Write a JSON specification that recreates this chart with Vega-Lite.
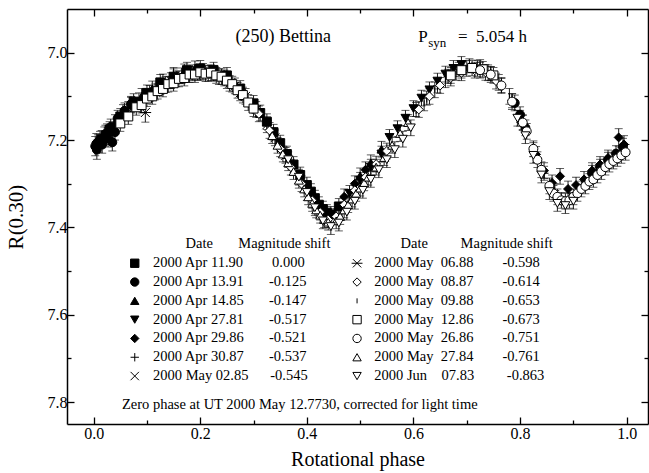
{
"$schema": "https://vega.github.io/schema/vega-lite/v6.json",
"width": 581, "height": 415,
"autosize": {"type": "none"},
"padding": {"left": 67, "top": 9, "right": 1, "bottom": 49},
"background": "white",
"config": {"view": {"stroke": null},
 "axis": {"domainColor": "black", "domainWidth": 1.5, "tickColor": "black", "tickWidth": 1.3, "labelColor": "black", "titleColor": "black", "labelFont": "Liberation Serif", "titleFont": "Liberation Serif", "labelFontSize": 16, "titleFontSize": 21, "titleFontWeight": "normal", "grid": false, "labelOverlap": false, "labelFlush": false},
 "legend": {"titleLimit": 500, "labelLimit": 500}},
"datasets": {"lc": [
{"s":"a","p":0.015,"m":7.198,"e":0.02},{"s":"a","p":0.03,"m":7.176,"e":0.018},
{"s":"a","p":0.05,"m":7.146,"e":0.018},{"s":"a","p":0.075,"m":7.112,"e":0.018},{"s":"a","p":0.1,"m":7.092,"e":0.018},{"s":"a","p":0.125,"m":7.068,"e":0.018},{"s":"a","p":0.15,"m":7.055,"e":0.018},{"s":"a","p":0.175,"m":7.04,"e":0.018},{"s":"a","p":0.2,"m":7.036,"e":0.018},{"s":"a","p":0.225,"m":7.04,"e":0.018},{"s":"a","p":0.25,"m":7.052,"e":0.018},{"s":"a","p":0.275,"m":7.082,"e":0.018},{"s":"a","p":0.3,"m":7.116,"e":0.018},{"s":"a","p":0.3125,"m":7.138,"e":0.018},{"s":"a","p":0.325,"m":7.158,"e":0.018},{"s":"a","p":0.3375,"m":7.182,"e":0.018},{"s":"a","p":0.35,"m":7.207,"e":0.018},{"s":"a","p":0.3625,"m":7.232,"e":0.018},{"s":"a","p":0.375,"m":7.256,"e":0.018},{"s":"a","p":0.3875,"m":7.28,"e":0.018},{"s":"a","p":0.4,"m":7.303,"e":0.018},{"s":"a","p":0.4075,"m":7.318,"e":0.018},{"s":"a","p":0.415,"m":7.333,"e":0.018},{"s":"a","p":0.4225,"m":7.348,"e":0.018},{"s":"a","p":0.43,"m":7.358,"e":0.018},{"s":"a","p":0.4375,"m":7.366,"e":0.018},{"s":"a","p":0.445,"m":7.37,"e":0.018},{"s":"a","p":0.46,"m":7.352,"e":0.018},
{"s":"b","p":0.003,"m":7.214,"e":0.022},{"s":"b","p":0.006,"m":7.222,"e":0.022},{"s":"b","p":0.012,"m":7.2,"e":0.02},{"s":"b","p":0.016,"m":7.21,"e":0.02},{"s":"b","p":0.022,"m":7.186,"e":0.02},{"s":"b","p":0.027,"m":7.196,"e":0.02},{"s":"b","p":0.032,"m":7.17,"e":0.018},{"s":"b","p":0.035,"m":7.205,"e":0.02},{"s":"b","p":0.04,"m":7.182,"e":0.018},{"s":"b","p":0.045,"m":7.15,"e":0.018},{"s":"b","p":0.058,"m":7.133,"e":0.018},{"s":"b","p":0.07,"m":7.118,"e":0.018},{"s":"b","p":0.79,"m":7.115,"e":0.018},{"s":"b","p":0.8,"m":7.142,"e":0.018},{"s":"b","p":0.81,"m":7.172,"e":0.018},{"s":"b","p":0.935,"m":7.276,"e":0.018},{"s":"b","p":0.95,"m":7.262,"e":0.018},{"s":"b","p":0.965,"m":7.246,"e":0.018},{"s":"b","p":0.98,"m":7.231,"e":0.018},{"s":"b","p":0.993,"m":7.216,"e":0.02},
{"s":"c","p":0.008,"m":7.208,"e":0.02},{"s":"c","p":0.025,"m":7.181,"e":0.018},{"s":"c","p":0.04,"m":7.16,"e":0.018},{"s":"c","p":0.055,"m":7.137,"e":0.018},{"s":"c","p":0.07,"m":7.12,"e":0.018},{"s":"c","p":0.09,"m":7.1,"e":0.018},{"s":"c","p":0.11,"m":7.083,"e":0.018},{"s":"c","p":0.13,"m":7.067,"e":0.018},{"s":"c","p":0.15,"m":7.052,"e":0.018},{"s":"c","p":0.17,"m":7.044,"e":0.018},{"s":"c","p":0.19,"m":7.037,"e":0.018},{"s":"c","p":0.5,"m":7.282,"e":0.018},{"s":"c","p":0.52,"m":7.252,"e":0.018},{"s":"c","p":0.54,"m":7.221,"e":0.018},
{"s":"d","p":0.48,"m":7.322,"e":0.018},{"s":"d","p":0.5,"m":7.292,"e":0.018},{"s":"d","p":0.52,"m":7.262,"e":0.018},{"s":"d","p":0.54,"m":7.232,"e":0.018},{"s":"d","p":0.555,"m":7.194,"e":0.018},{"s":"d","p":0.57,"m":7.174,"e":0.018},{"s":"d","p":0.585,"m":7.15,"e":0.018},{"s":"d","p":0.6,"m":7.128,"e":0.018},{"s":"d","p":0.615,"m":7.104,"e":0.018},{"s":"d","p":0.63,"m":7.085,"e":0.018},{"s":"d","p":0.645,"m":7.065,"e":0.018},{"s":"d","p":0.66,"m":7.049,"e":0.018},{"s":"d","p":0.675,"m":7.036,"e":0.018},{"s":"d","p":0.69,"m":7.027,"e":0.018},
{"s":"e","p":0.005,"m":7.205,"e":0.02},{"s":"e","p":0.02,"m":7.19,"e":0.02},{"s":"e","p":0.47,"m":7.33,"e":0.018},{"s":"e","p":0.49,"m":7.3,"e":0.018},{"s":"e","p":0.51,"m":7.268,"e":0.018},{"s":"e","p":0.83,"m":7.233,"e":0.018},{"s":"e","p":0.845,"m":7.27,"e":0.018},{"s":"e","p":0.86,"m":7.298,"e":0.018},{"s":"e","p":0.875,"m":7.283,"e":0.018},{"s":"e","p":0.89,"m":7.312,"e":0.018},{"s":"e","p":0.905,"m":7.303,"e":0.018},{"s":"e","p":0.92,"m":7.29,"e":0.018},{"s":"e","p":0.935,"m":7.27,"e":0.018},{"s":"e","p":0.95,"m":7.256,"e":0.018},{"s":"e","p":0.965,"m":7.241,"e":0.018},{"s":"e","p":0.985,"m":7.194,"e":0.02},{"s":"e","p":0.995,"m":7.21,"e":0.02},
{"s":"f","p":0.605,"m":7.13,"e":0.016},{"s":"f","p":0.625,"m":7.104,"e":0.016},{"s":"f","p":0.645,"m":7.076,"e":0.016},{"s":"f","p":0.665,"m":7.054,"e":0.016},{"s":"f","p":0.685,"m":7.038,"e":0.016},{"s":"f","p":0.705,"m":7.03,"e":0.016},{"s":"f","p":0.725,"m":7.032,"e":0.016},{"s":"f","p":0.745,"m":7.048,"e":0.016},{"s":"f","p":0.765,"m":7.075,"e":0.016},{"s":"f","p":0.785,"m":7.11,"e":0.016},{"s":"f","p":0.805,"m":7.16,"e":0.016},{"s":"f","p":0.825,"m":7.222,"e":0.016},{"s":"f","p":0.845,"m":7.276,"e":0.016},{"s":"f","p":0.865,"m":7.316,"e":0.016},
{"s":"g","p":0.065,"m":7.13,"e":0.018},{"s":"g","p":0.085,"m":7.11,"e":0.018},{"s":"g","p":0.105,"m":7.093,"e":0.018},{"s":"g","p":0.125,"m":7.078,"e":0.018},{"s":"g","p":0.145,"m":7.064,"e":0.018},{"s":"g","p":0.165,"m":7.053,"e":0.018},{"s":"g","p":0.185,"m":7.046,"e":0.018},{"s":"g","p":0.205,"m":7.043,"e":0.018},{"s":"g","p":0.225,"m":7.047,"e":0.018},{"s":"g","p":0.245,"m":7.058,"e":0.018},{"s":"g","p":0.265,"m":7.076,"e":0.018},{"s":"g","p":0.285,"m":7.1,"e":0.018},{"s":"g","p":0.305,"m":7.13,"e":0.018},{"s":"g","p":0.325,"m":7.165,"e":0.018},{"s":"g","p":0.34,"m":7.195,"e":0.018},{"s":"g","p":0.36,"m":7.235,"e":0.018},
{"s":"h","p":0.097,"m":7.137,"e":0.022},{"s":"h","p":0.115,"m":7.09,"e":0.018},{"s":"h","p":0.135,"m":7.073,"e":0.018},{"s":"h","p":0.155,"m":7.06,"e":0.018},{"s":"h","p":0.175,"m":7.05,"e":0.018},{"s":"h","p":0.195,"m":7.045,"e":0.018},{"s":"h","p":0.215,"m":7.047,"e":0.018},{"s":"h","p":0.235,"m":7.055,"e":0.018},{"s":"h","p":0.255,"m":7.07,"e":0.018},{"s":"h","p":0.275,"m":7.092,"e":0.018},
{"s":"i","p":0.31,"m":7.14,"e":0.018},{"s":"i","p":0.33,"m":7.178,"e":0.018},{"s":"i","p":0.35,"m":7.22,"e":0.018},{"s":"i","p":0.37,"m":7.262,"e":0.018},{"s":"i","p":0.39,"m":7.3,"e":0.018},{"s":"i","p":0.41,"m":7.338,"e":0.018},{"s":"i","p":0.425,"m":7.365,"e":0.018},{"s":"i","p":0.44,"m":7.382,"e":0.018},{"s":"i","p":0.455,"m":7.375,"e":0.018},{"s":"i","p":0.47,"m":7.348,"e":0.018},{"s":"i","p":0.49,"m":7.315,"e":0.018},{"s":"i","p":0.51,"m":7.285,"e":0.018},{"s":"i","p":0.53,"m":7.255,"e":0.018},{"s":"i","p":0.55,"m":7.225,"e":0.018},{"s":"i","p":0.61,"m":7.13,"e":0.018},{"s":"i","p":0.63,"m":7.1,"e":0.018},{"s":"i","p":0.65,"m":7.075,"e":0.018},{"s":"i","p":0.67,"m":7.058,"e":0.018},{"s":"i","p":0.69,"m":7.046,"e":0.018},{"s":"i","p":0.715,"m":7.04,"e":0.018},{"s":"i","p":0.735,"m":7.045,"e":0.018},{"s":"i","p":0.755,"m":7.065,"e":0.018},
{"s":"j","p":0.62,"m":7.115,"e":0.018},{"s":"j","p":0.64,"m":7.085,"e":0.018},{"s":"j","p":0.66,"m":7.062,"e":0.018},{"s":"j","p":0.68,"m":7.045,"e":0.018},{"s":"j","p":0.7,"m":7.036,"e":0.018},{"s":"j","p":0.72,"m":7.036,"e":0.018},{"s":"j","p":0.74,"m":7.046,"e":0.018},{"s":"j","p":0.76,"m":7.068,"e":0.018},{"s":"j","p":0.78,"m":7.1,"e":0.018},{"s":"j","p":0.8,"m":7.15,"e":0.018},
{"s":"k","p":0.05,"m":7.162,"e":0.018},{"s":"k","p":0.065,"m":7.146,"e":0.018},{"s":"k","p":0.08,"m":7.125,"e":0.018},{"s":"k","p":0.09,"m":7.12,"e":0.018},{"s":"k","p":0.1,"m":7.105,"e":0.018},{"s":"k","p":0.11,"m":7.1,"e":0.018},{"s":"k","p":0.12,"m":7.088,"e":0.018},{"s":"k","p":0.13,"m":7.083,"e":0.018},{"s":"k","p":0.14,"m":7.072,"e":0.018},{"s":"k","p":0.15,"m":7.07,"e":0.018},{"s":"k","p":0.16,"m":7.06,"e":0.018},{"s":"k","p":0.17,"m":7.058,"e":0.018},{"s":"k","p":0.18,"m":7.05,"e":0.018},{"s":"k","p":0.19,"m":7.05,"e":0.018},{"s":"k","p":0.2,"m":7.045,"e":0.018},{"s":"k","p":0.21,"m":7.048,"e":0.018},{"s":"k","p":0.22,"m":7.046,"e":0.018},{"s":"k","p":0.23,"m":7.052,"e":0.018},{"s":"k","p":0.24,"m":7.055,"e":0.018},{"s":"k","p":0.25,"m":7.064,"e":0.018},{"s":"k","p":0.26,"m":7.072,"e":0.018},{"s":"k","p":0.27,"m":7.086,"e":0.018},{"s":"k","p":0.28,"m":7.097,"e":0.018},{"s":"k","p":0.29,"m":7.114,"e":0.018},{"s":"k","p":0.3,"m":7.128,"e":0.018},{"s":"k","p":0.67,"m":7.052,"e":0.018},{"s":"k","p":0.69,"m":7.04,"e":0.018},{"s":"k","p":0.71,"m":7.035,"e":0.018},{"s":"k","p":0.73,"m":7.038,"e":0.018},{"s":"k","p":0.75,"m":7.052,"e":0.018},
{"s":"l","p":0.725,"m":7.04,"e":0.018},{"s":"l","p":0.745,"m":7.05,"e":0.018},{"s":"l","p":0.765,"m":7.075,"e":0.018},{"s":"l","p":0.785,"m":7.112,"e":0.018},{"s":"l","p":0.805,"m":7.16,"e":0.018},{"s":"l","p":0.8125,"m":7.18,"e":0.018},{"s":"l","p":0.825,"m":7.22,"e":0.018},{"s":"l","p":0.8325,"m":7.245,"e":0.018},{"s":"l","p":0.84,"m":7.268,"e":0.018},{"s":"l","p":0.855,"m":7.305,"e":0.018},{"s":"l","p":0.8625,"m":7.322,"e":0.018},{"s":"l","p":0.87,"m":7.33,"e":0.018},{"s":"l","p":0.8775,"m":7.338,"e":0.018},{"s":"l","p":0.885,"m":7.34,"e":0.018},{"s":"l","p":0.8925,"m":7.338,"e":0.018},{"s":"l","p":0.9,"m":7.33,"e":0.018},{"s":"l","p":0.9075,"m":7.322,"e":0.018},{"s":"l","p":0.915,"m":7.312,"e":0.018},{"s":"l","p":0.9225,"m":7.305,"e":0.018},{"s":"l","p":0.93,"m":7.295,"e":0.018},{"s":"l","p":0.9375,"m":7.29,"e":0.018},{"s":"l","p":0.945,"m":7.28,"e":0.018},{"s":"l","p":0.9525,"m":7.272,"e":0.018},{"s":"l","p":0.96,"m":7.262,"e":0.018},{"s":"l","p":0.9675,"m":7.255,"e":0.018},{"s":"l","p":0.975,"m":7.248,"e":0.018},{"s":"l","p":0.9825,"m":7.242,"e":0.018},{"s":"l","p":0.99,"m":7.235,"e":0.018},{"s":"l","p":0.998,"m":7.228,"e":0.018},
{"s":"m","p":0.335,"m":7.19,"e":0.018},{"s":"m","p":0.345,"m":7.212,"e":0.018},{"s":"m","p":0.355,"m":7.232,"e":0.018},{"s":"m","p":0.365,"m":7.252,"e":0.018},{"s":"m","p":0.375,"m":7.272,"e":0.018},{"s":"m","p":0.385,"m":7.292,"e":0.018},{"s":"m","p":0.395,"m":7.312,"e":0.018},{"s":"m","p":0.4025,"m":7.33,"e":0.018},{"s":"m","p":0.41,"m":7.345,"e":0.018},{"s":"m","p":0.4175,"m":7.36,"e":0.018},{"s":"m","p":0.425,"m":7.372,"e":0.018},{"s":"m","p":0.4325,"m":7.382,"e":0.018},{"s":"m","p":0.44,"m":7.388,"e":0.018},{"s":"m","p":0.455,"m":7.385,"e":0.018},{"s":"m","p":0.4625,"m":7.375,"e":0.018},{"s":"m","p":0.47,"m":7.36,"e":0.018},{"s":"m","p":0.4775,"m":7.348,"e":0.018},{"s":"m","p":0.485,"m":7.335,"e":0.018},{"s":"m","p":0.4925,"m":7.322,"e":0.018},{"s":"m","p":0.5,"m":7.31,"e":0.018},{"s":"m","p":0.5075,"m":7.298,"e":0.018},{"s":"m","p":0.515,"m":7.285,"e":0.018},{"s":"m","p":0.53,"m":7.262,"e":0.018},{"s":"m","p":0.545,"m":7.24,"e":0.018},{"s":"m","p":0.56,"m":7.212,"e":0.018},{"s":"m","p":0.575,"m":7.185,"e":0.018},{"s":"m","p":0.59,"m":7.16,"e":0.018},
{"s":"n","p":0.365,"m":7.245,"e":0.018},{"s":"n","p":0.385,"m":7.285,"e":0.018},{"s":"n","p":0.4,"m":7.32,"e":0.018},{"s":"n","p":0.415,"m":7.355,"e":0.018},{"s":"n","p":0.43,"m":7.385,"e":0.018},{"s":"n","p":0.445,"m":7.398,"e":0.018},{"s":"n","p":0.46,"m":7.39,"e":0.018},{"s":"n","p":0.475,"m":7.365,"e":0.018},{"s":"n","p":0.49,"m":7.34,"e":0.018},{"s":"n","p":0.505,"m":7.315,"e":0.018},{"s":"n","p":0.52,"m":7.29,"e":0.018},{"s":"n","p":0.535,"m":7.268,"e":0.018},{"s":"n","p":0.55,"m":7.245,"e":0.018},{"s":"n","p":0.565,"m":7.222,"e":0.018},{"s":"n","p":0.58,"m":7.198,"e":0.018},{"s":"n","p":0.595,"m":7.172,"e":0.018},{"s":"n","p":0.795,"m":7.15,"e":0.018},{"s":"n","p":0.81,"m":7.19,"e":0.018},{"s":"n","p":0.825,"m":7.235,"e":0.018},{"s":"n","p":0.84,"m":7.28,"e":0.018},{"s":"n","p":0.855,"m":7.318,"e":0.018},{"s":"n","p":0.87,"m":7.345,"e":0.018},{"s":"n","p":0.885,"m":7.35,"e":0.018},{"s":"n","p":0.9,"m":7.34,"e":0.018}
]},
"data": {"name": "lc"},
"layer": [
 {"mark": {"type": "errorbar", "ticks": true, "size": 8, "thickness": 0.9, "color": "black"},
  "encoding": {
   "x": {"field": "p", "type": "quantitative", "scale": {"domain": [-0.05, 1.04], "nice": false, "zero": false},
     "axis": {"orient": "bottom", "title": "Rotational phase", "values": [0,0.1,0.2,0.3,0.4,0.5,0.6,0.7,0.8,0.9,1.0], "labelExpr": "round(datum.value*10)%2==0 ? format(datum.value,'.1f') : ''", "tickSize": {"condition": {"test": "round(datum.value*10)%2==0", "value": -7}, "value": -4}, "labelPadding": 8, "titlePadding": 5, "titleFontSize": 20}},
   "y": {"field": "m", "type": "quantitative", "scale": {"domain": [6.9, 7.85], "nice": false, "zero": false, "reverse": true},
     "axis": {"orient": "left", "title": "R(0.30)", "values": [7.0,7.1,7.2,7.3,7.4,7.5,7.6,7.7,7.8], "labelExpr": "round(datum.value*10)%2==0 ? format(datum.value,'.1f') : ''", "tickSize": {"condition": {"test": "round(datum.value*10)%2==0", "value": -7}, "value": -4}, "labelPadding": 7, "titlePadding": 21}},
   "yError": {"field": "e"}
  }},
 {"transform": [{"filter": {"field": "s", "oneOf": ["a","b","c","d","e","f","g"]}}],
  "mark": {"type": "point", "filled": true, "stroke": "black", "strokeWidth": 1, "size": 80, "opacity": 1},
  "encoding": {
   "x": {"field": "p", "type": "quantitative", "axis": {"orient": "top", "labels": false, "title": null, "values": [0,0.1,0.2,0.3,0.4,0.5,0.6,0.7,0.8,0.9,1.0], "tickSize": {"condition": {"test": "round(datum.value*10)%2==0", "value": -7}, "value": -4}}},
   "y": {"field": "m", "type": "quantitative", "axis": {"orient": "right", "labels": false, "title": null, "values": [7.0,7.1,7.2,7.3,7.4,7.5,7.6,7.7,7.8], "tickSize": {"condition": {"test": "round(datum.value*10)%2==0", "value": -7}, "value": -4}}},
   "shape": {"field": "s", "type": "nominal", "scale": {"domain": ["a","b","c","d","e","f","g"], "range": ["square","circle","triangle-up","triangle-down","diamond","M-1,0H1M0,-1V1","M-1,-1L1,1M-1,1L1,-1"]},
     "legend": {"orient": "none", "legendX": 60.5, "legendY": 228, "padding": 0, "title": "\u200b\u00a0\u00a0\u00a0\u00a0\u00a0\u00a0\u00a0\u00a0\u00a0\u00a0\u00a0\u00a0\u00a0\u00a0\u00a0\u00a0Date\u00a0\u00a0\u00a0\u00a0\u00a0\u00a0\u00a0Magnitude shift", "titleFont": "Liberation Serif", "titleFontSize": 14.5, "titleFontWeight": "normal", "titleColor": "black", "titlePadding": 4.5, "titleLimit": 500, "labelFont": "Liberation Serif", "labelFontSize": 14.5, "labelColor": "black", "labelOffset": 11, "labelLimit": 500, "symbolSize": 70, "symbolStrokeWidth": 1, "symbolStrokeColor": "black", "rowPadding": 3.8,
      "labelExpr": "{'a':'2000 Apr 11.90\u00a0\u00a0\u00a0\u00a0\u00a0\u00a0\u00a0\u00a00.000','b':'2000 Apr 13.91\u00a0\u00a0\u00a0\u00a0\u00a0\u00a0\u00a0-0.125','c':'2000 Apr 14.85\u00a0\u00a0\u00a0\u00a0\u00a0\u00a0\u00a0-0.147','d':'2000 Apr 27.81\u00a0\u00a0\u00a0\u00a0\u00a0\u00a0\u00a0-0.517','e':'2000 Apr 29.86\u00a0\u00a0\u00a0\u00a0\u00a0\u00a0\u00a0-0.521','f':'2000 Apr 30.87\u00a0\u00a0\u00a0\u00a0\u00a0\u00a0\u00a0-0.537','g':'2000 May 02.85\u00a0\u00a0\u00a0\u00a0\u00a0\u00a0-0.545'}[datum.label]"}},
   "color": {"field": "s", "type": "nominal", "scale": {"domain": ["a","b","c","d","e","f","g"], "range": ["black","black","black","black","black","black","black"]},
     "legend": {"orient": "none", "legendX": 60.5, "legendY": 228, "padding": 0, "title": "\u200b\u00a0\u00a0\u00a0\u00a0\u00a0\u00a0\u00a0\u00a0\u00a0\u00a0\u00a0\u00a0\u00a0\u00a0\u00a0\u00a0Date\u00a0\u00a0\u00a0\u00a0\u00a0\u00a0\u00a0Magnitude shift", "titleFont": "Liberation Serif", "titleFontSize": 14.5, "titleFontWeight": "normal", "titleColor": "black", "titlePadding": 4.5, "titleLimit": 500, "labelFont": "Liberation Serif", "labelFontSize": 14.5, "labelColor": "black", "labelOffset": 11, "labelLimit": 500, "symbolSize": 70, "symbolStrokeWidth": 1, "symbolStrokeColor": "black", "rowPadding": 3.8,
      "labelExpr": "{'a':'2000 Apr 11.90\u00a0\u00a0\u00a0\u00a0\u00a0\u00a0\u00a0\u00a00.000','b':'2000 Apr 13.91\u00a0\u00a0\u00a0\u00a0\u00a0\u00a0\u00a0-0.125','c':'2000 Apr 14.85\u00a0\u00a0\u00a0\u00a0\u00a0\u00a0\u00a0-0.147','d':'2000 Apr 27.81\u00a0\u00a0\u00a0\u00a0\u00a0\u00a0\u00a0-0.517','e':'2000 Apr 29.86\u00a0\u00a0\u00a0\u00a0\u00a0\u00a0\u00a0-0.521','f':'2000 Apr 30.87\u00a0\u00a0\u00a0\u00a0\u00a0\u00a0\u00a0-0.537','g':'2000 May 02.85\u00a0\u00a0\u00a0\u00a0\u00a0\u00a0-0.545'}[datum.label]"}}
  }},
 {"transform": [{"filter": {"field": "s", "oneOf": ["h","i","j","k","l","m","n"]}}],
  "mark": {"type": "point", "filled": true, "stroke": "black", "strokeWidth": 1, "size": 80, "opacity": 1},
  "encoding": {
   "x": {"field": "p", "type": "quantitative", "axis": null},
   "y": {"field": "m", "type": "quantitative", "axis": null},
   "shape": {"field": "s", "type": "nominal", "scale": {"domain": ["h","i","j","k","l","m","n"], "range": ["M-1,-1L1,1M-1,1L1,-1M-1.3,0H1.3","diamond","M0,-0.6V0.6","square","circle","triangle-up","triangle-down"]},
     "legend": {"orient": "none", "legendX": 282.8, "legendY": 228, "padding": 0, "title": "\u200b\u00a0\u00a0\u00a0\u00a0\u00a0\u00a0\u00a0\u00a0\u00a0\u00a0\u00a0\u00a0\u00a0\u00a0Date\u00a0\u00a0\u00a0\u00a0\u00a0\u00a0\u00a0\u00a0\u00a0Magnitude shift", "titleFont": "Liberation Serif", "titleFontSize": 14.5, "titleFontWeight": "normal", "titleColor": "black", "titlePadding": 4.5, "titleLimit": 500, "labelFont": "Liberation Serif", "labelFontSize": 14.5, "labelColor": "black", "labelOffset": 10, "labelLimit": 500, "symbolSize": 70, "symbolStrokeWidth": 1, "symbolStrokeColor": "black", "rowPadding": 3.8,
      "labelExpr": "{'h':'2000 May\u00a0\u00a006.88\u00a0\u00a0\u00a0\u00a0\u00a0\u00a0\u00a0\u00a0-0.598','i':'2000 May\u00a0\u00a008.87\u00a0\u00a0\u00a0\u00a0\u00a0\u00a0\u00a0\u00a0-0.614','j':'2000 May\u00a0\u00a009.88\u00a0\u00a0\u00a0\u00a0\u00a0\u00a0\u00a0\u00a0-0.653','k':'2000 May\u00a0\u00a012.86\u00a0\u00a0\u00a0\u00a0\u00a0\u00a0\u00a0\u00a0-0.673','l':'2000 May\u00a0\u00a026.86\u00a0\u00a0\u00a0\u00a0\u00a0\u00a0\u00a0\u00a0-0.751','m':'2000 May\u00a0\u00a027.84\u00a0\u00a0\u00a0\u00a0\u00a0\u00a0\u00a0\u00a0-0.761','n':'2000 Jun\u00a0\u00a0\u00a0\u00a007.83\u00a0\u00a0\u00a0\u00a0\u00a0\u00a0\u00a0\u00a0\u00a0-0.863'}[datum.label]"}},
   "color": {"field": "s", "type": "nominal", "scale": {"domain": ["h","i","j","k","l","m","n"], "range": ["black","white","black","white","white","white","white"]},
     "legend": {"orient": "none", "legendX": 282.8, "legendY": 228, "padding": 0, "title": "\u200b\u00a0\u00a0\u00a0\u00a0\u00a0\u00a0\u00a0\u00a0\u00a0\u00a0\u00a0\u00a0\u00a0\u00a0Date\u00a0\u00a0\u00a0\u00a0\u00a0\u00a0\u00a0\u00a0\u00a0Magnitude shift", "titleFont": "Liberation Serif", "titleFontSize": 14.5, "titleFontWeight": "normal", "titleColor": "black", "titlePadding": 4.5, "titleLimit": 500, "labelFont": "Liberation Serif", "labelFontSize": 14.5, "labelColor": "black", "labelOffset": 10, "labelLimit": 500, "symbolSize": 70, "symbolStrokeWidth": 1, "symbolStrokeColor": "black", "rowPadding": 3.8,
      "labelExpr": "{'h':'2000 May\u00a0\u00a006.88\u00a0\u00a0\u00a0\u00a0\u00a0\u00a0\u00a0\u00a0-0.598','i':'2000 May\u00a0\u00a008.87\u00a0\u00a0\u00a0\u00a0\u00a0\u00a0\u00a0\u00a0-0.614','j':'2000 May\u00a0\u00a009.88\u00a0\u00a0\u00a0\u00a0\u00a0\u00a0\u00a0\u00a0-0.653','k':'2000 May\u00a0\u00a012.86\u00a0\u00a0\u00a0\u00a0\u00a0\u00a0\u00a0\u00a0-0.673','l':'2000 May\u00a0\u00a026.86\u00a0\u00a0\u00a0\u00a0\u00a0\u00a0\u00a0\u00a0-0.751','m':'2000 May\u00a0\u00a027.84\u00a0\u00a0\u00a0\u00a0\u00a0\u00a0\u00a0\u00a0-0.761','n':'2000 Jun\u00a0\u00a0\u00a0\u00a007.83\u00a0\u00a0\u00a0\u00a0\u00a0\u00a0\u00a0\u00a0\u00a0-0.863'}[datum.label]"}}
  }},
 {"data": {"values": [{}]}, "mark": {"type": "text", "text": "(250) Bettina", "align": "left", "baseline": "alphabetic", "font": "Liberation Serif", "fontSize": 18, "color": "black"},
  "encoding": {"x": {"datum": 0.266, "type": "quantitative", "axis": null}, "y": {"datum": 6.976, "type": "quantitative", "axis": null}}},
 {"data": {"values": [{}]}, "mark": {"type": "text", "text": "P", "align": "left", "baseline": "alphabetic", "font": "Liberation Serif", "fontSize": 17, "color": "black"},
  "encoding": {"x": {"datum": 0.609, "type": "quantitative", "axis": null}, "y": {"datum": 6.976, "type": "quantitative", "axis": null}}},
 {"data": {"values": [{}]}, "mark": {"type": "text", "text": "syn", "align": "left", "baseline": "alphabetic", "font": "Liberation Serif", "fontSize": 13, "color": "black"},
  "encoding": {"x": {"datum": 0.6275, "type": "quantitative", "axis": null}, "y": {"datum": 6.988, "type": "quantitative", "axis": null}}},
 {"data": {"values": [{}]}, "mark": {"type": "text", "text": "=\u00a0\u00a05.054 h", "align": "left", "baseline": "alphabetic", "font": "Liberation Serif", "fontSize": 17, "color": "black"},
  "encoding": {"x": {"datum": 0.6835, "type": "quantitative", "axis": null}, "y": {"datum": 6.976, "type": "quantitative", "axis": null}}},
 {"data": {"values": [{}]}, "mark": {"type": "text", "text": "Zero phase at UT 2000 May 12.7730, corrected for light time", "align": "left", "baseline": "alphabetic", "font": "Liberation Serif", "fontSize": 14.5, "color": "black"},
  "encoding": {"x": {"datum": 0.053, "type": "quantitative", "axis": null}, "y": {"datum": 7.816, "type": "quantitative", "axis": null}}}
],
"resolve": {"scale": {"shape": "independent", "color": "independent"}, "axis": {"x": "independent", "y": "independent"}, "legend": {"shape": "independent", "color": "independent"}}
}
